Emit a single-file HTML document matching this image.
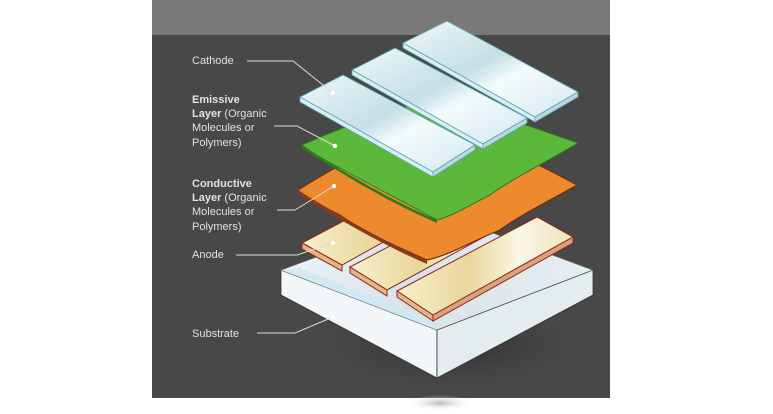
<!DOCTYPE html>
<html><head><meta charset="utf-8">
<style>
html,body{margin:0;padding:0;background:#fff;}
svg{display:block}
text{font-family:"Liberation Sans",sans-serif;font-size:11px;fill:#e2e2e2}
</style></head><body>
<svg width="773" height="414" viewBox="0 0 773 414" xmlns="http://www.w3.org/2000/svg">
<defs>
<linearGradient id="glass" x1="0" y1="0" x2="1" y2="1">
<stop offset="0" stop-color="#eef8fb"/><stop offset="0.45" stop-color="#c4dfe6"/><stop offset="0.6" stop-color="#f4fbfc"/><stop offset="1" stop-color="#d2e8ee"/>
</linearGradient>
<linearGradient id="anode" x1="0" y1="0" x2="1" y2="0">
<stop offset="0" stop-color="#f7efce"/><stop offset="0.4" stop-color="#e9d79a"/><stop offset="0.7" stop-color="#fbf6e6"/><stop offset="1" stop-color="#efe2b8"/>
</linearGradient>
<linearGradient id="sub" x1="0" y1="0" x2="1" y2="0">
<stop offset="0" stop-color="#eef3f6"/><stop offset="0.4" stop-color="#d7e3ea"/><stop offset="1" stop-color="#e6eef2"/>
</linearGradient>
<radialGradient id="shadow" cx="0.5" cy="0.5" r="0.5">
<stop offset="0" stop-color="#222" stop-opacity="0.7"/><stop offset="1" stop-color="#444" stop-opacity="0"/>
</radialGradient>
<radialGradient id="sh2" cx="0.5" cy="0.5" r="0.5">
<stop offset="0" stop-color="#aaa" stop-opacity="0.8"/><stop offset="1" stop-color="#fff" stop-opacity="0"/>
</radialGradient>
</defs>
<rect x="152" y="0" width="458" height="398" fill="#484848"/>
<rect x="152" y="0" width="458" height="35" fill="#7b7879"/>
<ellipse cx="450" cy="345" rx="150" ry="50" fill="url(#shadow)"/>
<ellipse cx="440" cy="403" rx="35" ry="8" fill="url(#sh2)"/>
<!-- substrate -->
<polygon points="281,270 437,330 437,378 281,295" fill="#f2f6f8" stroke="#333" stroke-width="0.8"/>
<polygon points="437,330 593,270 593,295 437,378" fill="#e4ecf0" stroke="#333" stroke-width="0.8"/>
<polygon points="281,270 437,212 593,270 437,330" fill="url(#sub)" stroke="#555" stroke-width="0.8"/>
<polygon points="300,268 430,320 437,330 281,270" fill="#cde8f3" opacity="0.8"/>
<!-- anode strips -->
<g stroke="#8a2a1a" stroke-width="1">
<polygon points="302,243 440,170 477,190 342,265" fill="url(#anode)"/>
<polygon points="302,243 342,265 342,271 302,249" fill="#e8b48a"/>
<polygon points="350,267 487,195 524,215 387,290" fill="url(#anode)"/>
<polygon points="350,267 387,290 387,296 350,273" fill="#e8b48a"/>
<polygon points="397,291 537,217 573,237 433,315" fill="url(#anode)"/>
<polygon points="397,291 433,315 433,321 397,297" fill="#e8b48a"/>
<polygon points="433,315 573,237 573,243 433,321" fill="#dca27a"/>
</g>
<!-- orange layer -->
<path d="M298,190 C330,170 400,130 440,120 C480,135 540,165 577,185 C560,195 520,215 500,230 C470,242 450,255 427,260 C400,248 360,230 340,215 C320,205 305,197 298,190 Z" fill="#ee8a2e" stroke="#7a2a14" stroke-width="1.2"/>
<path d="M298,190 C330,210 380,240 427,260 L427,264 C380,244 330,214 298,194 Z" fill="#8a3a1a"/>
<!-- green layer -->
<path d="M302,145 C340,128 400,105 445,98 C490,112 540,130 578,143 C550,160 510,180 490,195 C470,205 455,215 437,220 C410,205 370,185 340,168 C320,158 308,150 302,145 Z" fill="#5cb83a" stroke="#2f7a1e" stroke-width="1"/>
<path d="M302,145 C340,170 390,200 437,220 L437,223 C390,203 340,173 302,148 Z" fill="#2f7a1e"/>
<!-- cathode strips -->
<g stroke="#5aa4b0" stroke-width="0.8">
<polygon points="403,43 447,21 578,92 535,117" fill="url(#glass)"/>
<polygon points="403,43 535,117 535,122 403,48" fill="#d8eef2"/>
<polygon points="535,117 578,92 578,97 535,122" fill="#bcd8de"/>
<polygon points="352,70 395,48 527,118 483,144" fill="url(#glass)"/>
<polygon points="352,70 483,144 483,149 352,75" fill="#d8eef2"/>
<polygon points="483,144 527,118 527,123 483,149" fill="#bcd8de"/>
<polygon points="300,97 343,75 475,145 433,172" fill="url(#glass)"/>
<polygon points="300,97 433,172 433,177 300,102" fill="#d8eef2"/>
<polygon points="433,172 475,145 475,150 433,177" fill="#bcd8de"/>
</g>
<g stroke="#dcdcdc" stroke-width="1" fill="none">
<polyline points="247,61 293,61 333,93"/>
<polyline points="274,126 297,126 335,146"/>
<polyline points="277,210 295,210 334,186"/>
<polyline points="236,255 297,255 333,243"/>
<polyline points="257,333 295,333 333,317"/>
</g>
<g fill="#fff">
<circle cx="333" cy="93" r="2.2"/><circle cx="335" cy="146" r="2.2"/><circle cx="334" cy="186" r="2.2"/><circle cx="333" cy="243" r="2.2"/><circle cx="333" cy="317" r="2.2"/>
</g>
<text x="192" y="64">Cathode</text>
<text x="192" y="103"><tspan font-weight="bold">Emissive</tspan></text>
<text x="192" y="117"><tspan font-weight="bold">Layer</tspan> (Organic</text>
<text x="192" y="131">Molecules or</text>
<text x="192" y="146">Polymers)</text>
<text x="192" y="187"><tspan font-weight="bold">Conductive</tspan></text>
<text x="192" y="201"><tspan font-weight="bold">Layer</tspan> (Organic</text>
<text x="192" y="215">Molecules or</text>
<text x="192" y="230">Polymers)</text>
<text x="192" y="258">Anode</text>
<text x="192" y="337">Substrate</text>
</svg>
</body></html>
